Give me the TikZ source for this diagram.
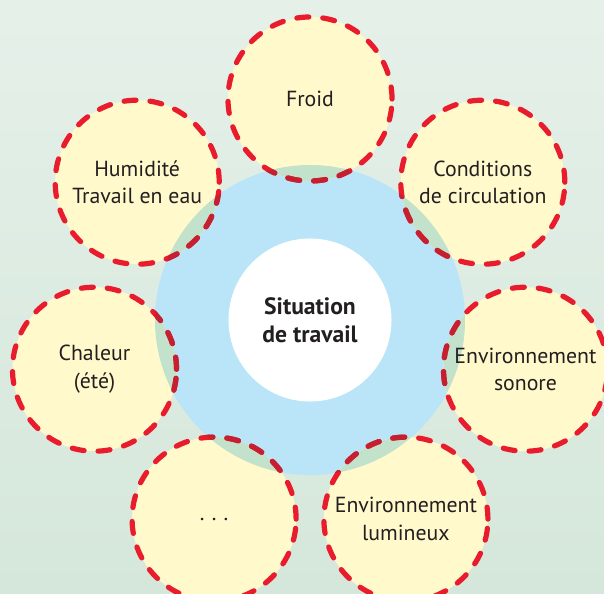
\documentclass[tikz,border=0pt]{standalone}
\usepackage{fontspec}
\setmainfont{PT Sans}
\usetikzlibrary{positioning}
\definecolor{bgtop}{RGB}{229,240,233}
\definecolor{bgbot}{RGB}{213,231,218}
\definecolor{petalfill}{RGB}{255,249,204}
\definecolor{hubblue}{RGB}{186,228,248}
\definecolor{overlapgreen}{RGB}{194,226,204}
\definecolor{dashred}{RGB}{232,28,44}
\definecolor{dashdark}{RGB}{198,32,48}
\definecolor{ink}{RGB}{35,31,32}
\tikzset{
    Petal/.style = {circle, draw=dashred, fill=petalfill, line width=0.13cm,
        dash pattern=on 0.3cm off 0.35cm, line cap=round, minimum size=4.1cm,
        inner sep=0pt, align=center, text=ink,
        path picture={\fill[overlapgreen] (hub) circle (155);}}
}
\tikzset{
    Rim/.style = {draw=dashdark, line width=0.13cm, dash pattern=on 0.3cm off 0.35cm, line cap=round}
}

\begin{document}
\begin{tikzpicture}[
    x=0.025cm, y=0.025cm,
    font=\fontsize{15.5}{19.6}\selectfont
]
\tikzset{
    Hub/.style = {circle, fill=hubblue, minimum size=7.75cm, inner sep=0pt},
    Core/.style = {circle, fill=white, minimum size=4.075cm, inner sep=0pt, align=center, text=ink, font=\fontsize{16.8}{19.6}\selectfont\bfseries}
}
\useasboundingbox (0,0) rectangle (604,593);
\shade[top color=bgtop, bottom color=bgbot] (0,0) rectangle (604,593);
\node[Hub] at (310,273) (hub) {};
\node[Petal] at (310,494) (froid) {Froid};
\node[Petal] at (137.2,410.8) (humid) {Humidité\\Travail en eau};
\node[Petal] at (94.5,223.8) (chaleur) {Chaleur\\(été)};
\node[Petal] at (214.1,73.9) (etc) {.\,\,.\,\,.};
\node[Petal] at (405.9,73.9) (lumin) {Environnement\\lumineux};
\node[Petal] at (525.5,223.8) (sonore) {Environnement\\sonore};
\node[Petal] at (482.8,410.8) (circul) {Conditions\\de circulation};
\begin{scope}
\clip (hub) circle (155);
\foreach \p in {froid,humid,chaleur,etc,lumin,sonore,circul}
    \draw[Rim] (\p) circle (82);
\end{scope}
\node[Core] at (hub) (core) {Situation\\de travail};
\end{tikzpicture}
\end{document}
